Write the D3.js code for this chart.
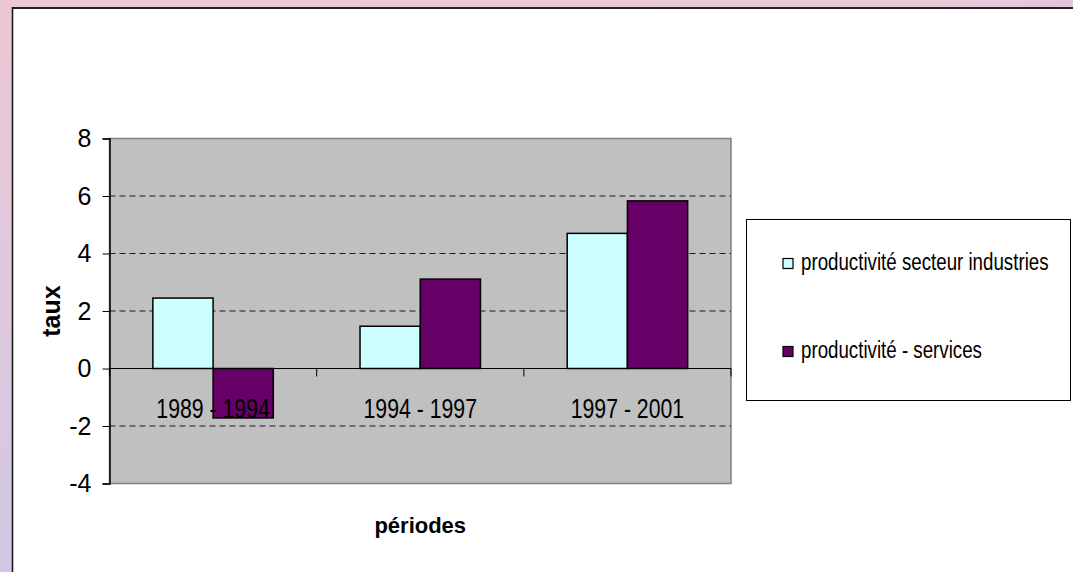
<!DOCTYPE html>
<html><head><meta charset="utf-8">
<script src="https://cdn.jsdelivr.net/npm/d3@7"></script>
<style>html,body{margin:0;padding:0;overflow:hidden;}svg{display:block;}</style>
</head><body>
<script>
const categories = ["1989 - 1994", "1994 - 1997", "1997 - 2001"];
const seriesNames = ["productivité secteur industries", "productivité - services"];
const industries = [2.45, 1.47, 4.70];
const services = [-1.72, 3.11, 5.83];
const yTicks = [-4, -2, 0, 2, 4, 6, 8];
const seriesColors = ["#ccffff", "#660066"];

(function () {
const W = 1073, H = 572;
const svg = d3.select("body").append("svg").attr("width", W).attr("height", H);
const defs = svg.append("defs");
const grad = defs.append("linearGradient").attr("id", "bg").attr("x1", "0").attr("y1", "0").attr("x2", "0.25").attr("y2", "1");
grad.append("stop").attr("offset", "0").attr("stop-color", "#ecc8d4");
grad.append("stop").attr("offset", "1").attr("stop-color", "#d0c8e6");
svg.append("rect").attr("width", W).attr("height", H).attr("fill", "url(#bg)");

// white frame
svg.append("rect").attr("x", 12.5).attr("y", 8).attr("width", W).attr("height", H).attr("fill", "#fff");
svg.append("line").attr("x1", 12).attr("x2", W).attr("y1", 8).attr("y2", 8).attr("stroke", "#222").attr("stroke-width", 2);
svg.append("line").attr("x1", 12.5).attr("x2", 12.5).attr("y1", 7).attr("y2", H).attr("stroke", "#111").attr("stroke-width", 1.5);

const pl = 109.5, pr = 731, pt = 138.5, pb = 483.5;
const x0 = d3.scaleBand().domain(categories).range([pl, pr]).paddingInner(0).paddingOuter(0);
const bw = x0.bandwidth();
const barW = bw / 3.44;
const x1 = d3.scaleBand().domain(seriesNames).range([(bw - 2 * barW) / 2, (bw + 2 * barW) / 2]).padding(0);
const y = d3.scaleLinear().domain([-4, 8]).range([pb, pt]);

// plot area
svg.append("rect").attr("x", pl).attr("y", pt).attr("width", pr - pl).attr("height", pb - pt)
  .attr("fill", "#c0c0c0").attr("stroke", "#808080").attr("stroke-width", 1.5);

// gridlines
svg.append("g").selectAll("line").data(yTicks.filter(t => t !== 0 && t !== 8 && t !== -4)).join("line")
  .attr("x1", pl).attr("x2", pr).attr("y1", d => y(d)).attr("y2", d => y(d))
  .attr("stroke", "#1a1a1a").attr("stroke-width", 1).attr("stroke-dasharray", "6,4");

// y axis
const yAxis = svg.append("g").attr("transform", `translate(${pl},0)`)
  .call(d3.axisLeft(y).tickValues(yTicks).tickSize(7).tickPadding(11).tickFormat(d => String(d)));
yAxis.select(".domain").attr("stroke", "#000").attr("stroke-width", 1.5);
yAxis.selectAll(".tick line").attr("stroke", "#000");
yAxis.selectAll("text").attr("font-family", "Liberation Sans, Arial, sans-serif").attr("font-size", 25).attr("fill", "#000");

// bars
const data = categories.map((c, i) => ({ cat: c, vals: [industries[i], services[i]] }));
const groups = svg.append("g").selectAll("g").data(data).join("g")
  .attr("transform", d => `translate(${x0(d.cat)},0)`);
groups.selectAll("rect").data(d => d.vals.map((v, j) => ({ s: seriesNames[j], v, j }))).join("rect")
  .attr("x", d => x1(d.s)).attr("width", x1.bandwidth())
  .attr("y", d => y(Math.max(0, d.v))).attr("height", d => Math.abs(y(d.v) - y(0)))
  .attr("fill", d => seriesColors[d.j]).attr("stroke", "#000").attr("stroke-width", 1.5);

// x axis at zero
svg.append("line").attr("x1", pl).attr("x2", pr).attr("y1", y(0)).attr("y2", y(0)).attr("stroke", "#000").attr("stroke-width", 1.2);
const bounds = categories.map(c => x0(c)).concat([pr]);
svg.append("g").selectAll("line").data(bounds).join("line")
  .attr("x1", d => d).attr("x2", d => d).attr("y1", y(0)).attr("y2", y(0) + 8).attr("stroke", "#000");

// category labels (condensed)
svg.append("g").selectAll("text").data(categories).join("text")
  .attr("transform", d => `translate(${x0(d) + bw / 2},${y(0) + 49}) scale(0.76,1)`)
  .attr("text-anchor", "middle").attr("font-family", "Liberation Sans, Arial, sans-serif")
  .attr("font-size", 28).attr("fill", "#000").text(d => d);

// axis titles
svg.append("text").attr("x", (pl + pr) / 2).attr("y", 533).attr("text-anchor", "middle")
  .attr("font-family", "Liberation Sans, Arial, sans-serif").attr("font-weight", "bold").attr("font-size", 22).text("périodes");
svg.append("text").attr("transform", `translate(60,${(pt + pb) / 2}) rotate(-90)`).attr("text-anchor", "middle")
  .attr("font-family", "Liberation Sans, Arial, sans-serif").attr("font-weight", "bold").attr("font-size", 25).text("taux");

// legend
svg.append("rect").attr("x", 746.5).attr("y", 219.5).attr("width", 324).attr("height", 181).attr("fill", "#fff").attr("stroke", "#000").attr("stroke-width", 1);
const legY = [264, 352];
const leg = svg.append("g").selectAll("g").data(seriesNames).join("g").attr("transform", (d, i) => `translate(783,${legY[i]})`);
leg.append("rect").attr("x", 0).attr("y", -5.5).attr("width", 10).attr("height", 10).attr("fill", (d, i) => seriesColors[i]).attr("stroke", "#000").attr("stroke-width", 1.2);
leg.append("text").attr("transform", "translate(18,5.5) scale(0.78,1)").attr("font-family", "Liberation Sans, Arial, sans-serif")
  .attr("font-size", 24).attr("fill", "#000").text(d => d);
})();
</script>
</body></html>
